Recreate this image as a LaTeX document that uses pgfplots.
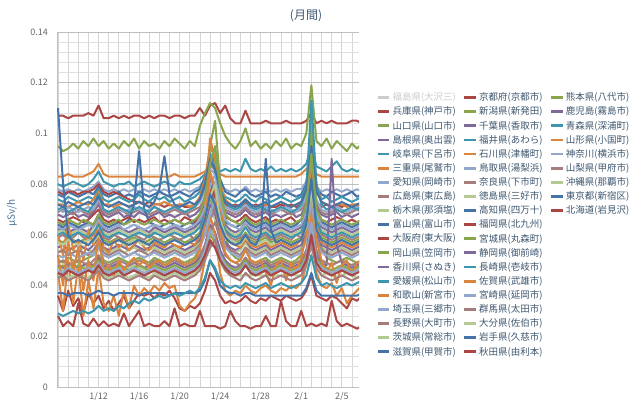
\documentclass[border=0pt]{standalone}
\usepackage{fontspec}
\setmainfont{Noto Sans CJK JP}
\usepackage{pgfplots}
\pgfplotsset{compat=1.18}
\definecolor{cb}{HTML}{4572A7}
\definecolor{cr}{HTML}{AA4643}
\definecolor{cg}{HTML}{89A54E}
\definecolor{cp}{HTML}{80699B}
\definecolor{ct}{HTML}{3D96AE}
\definecolor{co}{HTML}{DB843D}
\definecolor{cl}{HTML}{92A8CD}
\definecolor{cn}{HTML}{A47D7C}
\definecolor{cq}{HTML}{B5CA92}
\definecolor{hid}{HTML}{CCCCCC}
\definecolor{legtext}{HTML}{3E576F}
\definecolor{tickgray}{HTML}{666666}
\definecolor{axtitle}{HTML}{4D759E}
\newcommand{\ser}[2]{\addplot[#1,forget plot] table[x expr=\coordindex/2,y index=0,header=false,row sep=\\]{#2};}
\newcommand{\li}[2]{\addlegendimage{#1}\addlegendentry{#2}}
\newcommand{\lempty}{\addlegendimage{empty legend}\addlegendentry{}}
\begin{document}
\begin{tikzpicture}[x=1pt,y=1pt]
\useasboundingbox (0,0) rectangle (640,399);
\node[text=legtext,font=\fontsize{12}{12}\selectfont] at (306,383) {(月間)};
\begin{axis}[
  at={(57pt,12pt)}, anchor=south west, scale only axis,
  width=302pt, height=355pt,
  xmin=-0.1, xmax=29.7, ymin=0, ymax=0.14,
  xtick={4,8,12,16,20,24,28},
  xticklabels={1/12,1/16,1/20,1/24,1/28,2/1,2/5},
  minor xtick={0,1,...,29},
  ytick={0,0.02,0.04,0.06,0.08,0.1,0.12,0.14},
  yticklabels={0,0.02,0.04,0.06,0.08,0.1,0.12,0.14},
  minor y tick num=4,
  grid=both,
  major x grid style={draw=black!16, line width=0.7pt},
  minor x grid style={draw=black!16, line width=0.7pt},
  major y grid style={draw=black!25, line width=0.8pt},
  minor y grid style={draw=black!12, line width=0.7pt},
  axis x line*=bottom, axis y line*=left,
  axis line style={draw=black!25, line width=0.8pt, -},
  tick style={draw=none},
  yticklabel style={font=\fontsize{9}{9}\selectfont, text=tickgray, xshift=-5.5pt},
  xticklabel style={font=\fontsize{9}{9}\selectfont, text=tickgray, yshift=-1.5pt},
  ylabel={µSv/h},
  every axis y label/.style={at={(axis description cs:-0.149,0.49)}, rotate=90, anchor=center, font=\fontsize{10}{10}\selectfont, text=axtitle},
  no markers,
  every axis plot/.append style={line width=2pt, line join=round},
  legend columns=3,
  legend image code/.code={\draw[#1,line width=2.8pt] (0pt,0pt)--(11.5pt,0pt);},
  legend style={draw=none, fill=none, inner sep=0pt, at={(axis description cs:1.0563,0.835)}, anchor=north west,
    font=\fontsize{9.5}{11}\selectfont, text=legtext, row sep=0.6pt,
    /tikz/every even column/.append style={column sep=5pt},
    /tikz/every odd column/.append style={column sep=0pt}},
  legend cell align=left,
]
% 1 兵庫 red
\ser{cr}{0.107\\0.107\\0.106\\0.107\\0.107\\0.107\\0.108\\0.107\\0.111\\0.106\\0.106\\0.107\\0.106\\0.107\\0.106\\0.107\\0.107\\0.106\\0.107\\0.106\\0.107\\0.107\\0.106\\0.107\\0.107\\0.106\\0.107\\0.107\\0.110\\0.107\\0.111\\0.112\\0.108\\0.111\\0.106\\0.104\\0.104\\0.109\\0.104\\0.104\\0.104\\0.105\\0.104\\0.104\\0.104\\0.105\\0.104\\0.104\\0.104\\0.105\\0.108\\0.104\\0.105\\0.104\\0.105\\0.104\\0.104\\0.104\\0.105\\0.105\\0.104\\}
% 2 山口 green
\ser{cg}{0.095\\0.093\\0.094\\0.096\\0.094\\0.097\\0.095\\0.098\\0.095\\0.097\\0.094\\0.096\\0.094\\0.097\\0.095\\0.098\\0.094\\0.097\\0.095\\0.096\\0.094\\0.097\\0.095\\0.098\\0.096\\0.094\\0.097\\0.095\\0.103\\0.108\\0.112\\0.110\\0.104\\0.099\\0.096\\0.094\\0.097\\0.102\\0.095\\0.097\\0.094\\0.096\\0.094\\0.097\\0.095\\0.098\\0.094\\0.096\\0.095\\0.100\\0.119\\0.097\\0.095\\0.098\\0.094\\0.097\\0.095\\0.093\\0.096\\0.094\\0.096\\}
% 3 島根 purple
\ser{cp}{0.068\\0.067\\0.068\\0.069\\0.067\\0.068\\0.067\\0.069\\0.072\\0.068\\0.067\\0.068\\0.069\\0.067\\0.068\\0.067\\0.069\\0.068\\0.067\\0.068\\0.069\\0.067\\0.068\\0.067\\0.068\\0.069\\0.067\\0.068\\0.070\\0.075\\0.082\\0.078\\0.072\\0.069\\0.068\\0.067\\0.068\\0.070\\0.068\\0.067\\0.068\\0.069\\0.067\\0.068\\0.067\\0.068\\0.069\\0.067\\0.068\\0.072\\0.086\\0.071\\0.068\\0.067\\0.068\\0.069\\0.067\\0.068\\0.067\\0.068\\0.069\\}
% 4 岐阜 teal
\ser{ct}{0.080\\0.079\\0.080\\0.081\\0.080\\0.079\\0.080\\0.082\\0.085\\0.081\\0.080\\0.079\\0.080\\0.080\\0.081\\0.079\\0.080\\0.081\\0.080\\0.079\\0.080\\0.081\\0.080\\0.079\\0.081\\0.080\\0.080\\0.081\\0.082\\0.084\\0.088\\0.087\\0.085\\0.086\\0.085\\0.086\\0.085\\0.090\\0.086\\0.085\\0.086\\0.085\\0.087\\0.085\\0.086\\0.085\\0.086\\0.085\\0.086\\0.088\\0.095\\0.087\\0.086\\0.085\\0.087\\0.089\\0.086\\0.085\\0.086\\0.085\\0.086\\}
% 5 三重 orange
\ser{co}{0.083\\0.083\\0.084\\0.083\\0.083\\0.083\\0.084\\0.085\\0.088\\0.084\\0.083\\0.083\\0.083\\0.083\\0.083\\0.083\\0.083\\0.083\\0.083\\0.083\\0.083\\0.083\\0.083\\0.084\\0.083\\0.083\\0.083\\0.083\\0.084\\0.085\\0.087\\0.086\\0.084\\0.083\\0.083\\0.083\\0.083\\0.083\\0.083\\0.083\\0.083\\0.083\\0.083\\0.083\\0.083\\0.083\\0.083\\0.083\\0.084\\0.086\\0.088\\0.084\\0.083\\0.083\\0.083\\0.083\\0.083\\0.083\\0.083\\0.083\\0.083\\}
% 6 愛知 lightblue
\ser{cl}{0.078\\0.077\\0.078\\0.077\\0.078\\0.077\\0.078\\0.079\\0.081\\0.078\\0.077\\0.078\\0.077\\0.078\\0.077\\0.078\\0.077\\0.078\\0.077\\0.078\\0.077\\0.078\\0.077\\0.078\\0.077\\0.078\\0.077\\0.078\\0.079\\0.082\\0.086\\0.084\\0.080\\0.078\\0.077\\0.078\\0.077\\0.079\\0.077\\0.078\\0.077\\0.078\\0.077\\0.078\\0.077\\0.078\\0.077\\0.078\\0.078\\0.081\\0.090\\0.079\\0.077\\0.078\\0.077\\0.078\\0.077\\0.078\\0.077\\0.078\\0.077\\}
% 7 広島 brown
\ser{cn}{0.069\\0.070\\0.069\\0.068\\0.070\\0.069\\0.068\\0.070\\0.073\\0.069\\0.068\\0.069\\0.070\\0.069\\0.068\\0.069\\0.070\\0.069\\0.068\\0.069\\0.070\\0.068\\0.069\\0.070\\0.069\\0.068\\0.069\\0.070\\0.071\\0.074\\0.080\\0.077\\0.072\\0.070\\0.069\\0.068\\0.069\\0.071\\0.069\\0.068\\0.069\\0.070\\0.068\\0.069\\0.070\\0.069\\0.068\\0.069\\0.070\\0.073\\0.084\\0.072\\0.069\\0.068\\0.069\\0.070\\0.069\\0.068\\0.069\\0.070\\0.069\\}
% 8 栃木 lightgreen
\ser{cq}{0.061\\0.062\\0.060\\0.061\\0.062\\0.061\\0.060\\0.063\\0.066\\0.061\\0.060\\0.061\\0.062\\0.061\\0.060\\0.061\\0.062\\0.061\\0.060\\0.062\\0.061\\0.060\\0.061\\0.062\\0.061\\0.060\\0.061\\0.062\\0.064\\0.070\\0.078\\0.074\\0.067\\0.063\\0.061\\0.060\\0.061\\0.064\\0.061\\0.060\\0.061\\0.062\\0.060\\0.061\\0.062\\0.061\\0.060\\0.061\\0.062\\0.067\\0.085\\0.066\\0.062\\0.061\\0.060\\0.061\\0.062\\0.061\\0.060\\0.061\\0.062\\}
% 9 富山 blue
\ser{cb}{0.076\\0.075\\0.077\\0.076\\0.075\\0.076\\0.077\\0.076\\0.079\\0.076\\0.075\\0.076\\0.077\\0.075\\0.076\\0.075\\0.077\\0.076\\0.075\\0.076\\0.077\\0.076\\0.075\\0.076\\0.077\\0.076\\0.075\\0.077\\0.078\\0.083\\0.088\\0.092\\0.082\\0.077\\0.076\\0.075\\0.077\\0.078\\0.076\\0.075\\0.076\\0.077\\0.075\\0.076\\0.075\\0.077\\0.076\\0.075\\0.076\\0.080\\0.098\\0.078\\0.076\\0.075\\0.077\\0.076\\0.075\\0.076\\0.077\\0.075\\0.076\\}
% 10 大阪 red
\ser{cr}{0.077\\0.076\\0.077\\0.077\\0.076\\0.077\\0.077\\0.078\\0.080\\0.077\\0.076\\0.077\\0.076\\0.075\\0.074\\0.073\\0.073\\0.072\\0.073\\0.072\\0.072\\0.071\\0.072\\0.071\\0.072\\0.071\\0.071\\0.072\\0.074\\0.078\\0.083\\0.080\\0.075\\0.072\\0.071\\0.072\\0.071\\0.073\\0.071\\0.072\\0.071\\0.072\\0.071\\0.071\\0.072\\0.071\\0.072\\0.071\\0.072\\0.075\\0.085\\0.073\\0.071\\0.072\\0.071\\0.072\\0.071\\0.072\\0.071\\0.072\\0.071\\}
% 11 岡山 green
\ser{cg}{0.058\\0.057\\0.059\\0.058\\0.057\\0.058\\0.059\\0.058\\0.062\\0.058\\0.057\\0.058\\0.059\\0.057\\0.058\\0.059\\0.058\\0.057\\0.058\\0.059\\0.058\\0.057\\0.058\\0.059\\0.058\\0.057\\0.058\\0.059\\0.061\\0.066\\0.074\\0.070\\0.064\\0.060\\0.058\\0.057\\0.058\\0.061\\0.058\\0.057\\0.058\\0.059\\0.057\\0.058\\0.059\\0.058\\0.057\\0.058\\0.059\\0.064\\0.080\\0.063\\0.059\\0.058\\0.057\\0.058\\0.059\\0.058\\0.057\\0.058\\0.059\\}
% 12 香川 purple
\ser{cp}{0.062\\0.063\\0.061\\0.062\\0.063\\0.062\\0.061\\0.064\\0.067\\0.062\\0.061\\0.062\\0.063\\0.062\\0.061\\0.062\\0.063\\0.062\\0.061\\0.063\\0.062\\0.061\\0.062\\0.063\\0.062\\0.061\\0.062\\0.063\\0.065\\0.070\\0.077\\0.073\\0.067\\0.064\\0.062\\0.061\\0.062\\0.065\\0.062\\0.061\\0.062\\0.063\\0.061\\0.062\\0.063\\0.062\\0.061\\0.062\\0.063\\0.068\\0.083\\0.067\\0.063\\0.062\\0.061\\0.062\\0.063\\0.062\\0.061\\0.062\\0.063\\}
% 13 愛媛 teal
\ser{ct}{0.074\\0.073\\0.075\\0.074\\0.073\\0.074\\0.075\\0.074\\0.078\\0.074\\0.073\\0.074\\0.075\\0.074\\0.073\\0.074\\0.076\\0.074\\0.073\\0.075\\0.074\\0.075\\0.073\\0.074\\0.075\\0.073\\0.074\\0.075\\0.077\\0.081\\0.090\\0.085\\0.078\\0.075\\0.074\\0.073\\0.074\\0.076\\0.074\\0.073\\0.075\\0.074\\0.073\\0.074\\0.075\\0.074\\0.073\\0.074\\0.075\\0.079\\0.100\\0.078\\0.074\\0.075\\0.073\\0.074\\0.075\\0.074\\0.073\\0.074\\0.075\\}
% 14 和歌山 orange
\ser{co}{0.072\\0.072\\0.071\\0.072\\0.073\\0.072\\0.072\\0.074\\0.077\\0.072\\0.072\\0.071\\0.072\\0.072\\0.071\\0.072\\0.073\\0.072\\0.071\\0.072\\0.072\\0.073\\0.072\\0.071\\0.072\\0.072\\0.071\\0.072\\0.075\\0.082\\0.095\\0.090\\0.080\\0.074\\0.072\\0.071\\0.072\\0.074\\0.072\\0.071\\0.072\\0.072\\0.071\\0.072\\0.073\\0.072\\0.071\\0.072\\0.073\\0.078\\0.105\\0.080\\0.073\\0.072\\0.071\\0.072\\0.072\\0.071\\0.072\\0.072\\0.071\\}
% 15 埼玉 lightblue
\ser{cl}{0.070\\0.069\\0.071\\0.070\\0.069\\0.070\\0.071\\0.070\\0.074\\0.070\\0.069\\0.070\\0.071\\0.069\\0.070\\0.071\\0.070\\0.069\\0.070\\0.071\\0.070\\0.069\\0.070\\0.071\\0.070\\0.069\\0.070\\0.071\\0.073\\0.077\\0.083\\0.080\\0.074\\0.071\\0.070\\0.069\\0.070\\0.072\\0.070\\0.069\\0.070\\0.071\\0.070\\0.069\\0.070\\0.071\\0.070\\0.069\\0.071\\0.075\\0.088\\0.074\\0.070\\0.069\\0.070\\0.071\\0.070\\0.069\\0.070\\0.071\\0.070\\}
% 16 長野 brown
\ser{cn}{0.059\\0.060\\0.058\\0.059\\0.061\\0.059\\0.058\\0.060\\0.062\\0.059\\0.058\\0.060\\0.059\\0.058\\0.059\\0.060\\0.059\\0.058\\0.060\\0.059\\0.058\\0.059\\0.060\\0.059\\0.058\\0.059\\0.060\\0.058\\0.060\\0.063\\0.068\\0.072\\0.066\\0.061\\0.059\\0.058\\0.059\\0.060\\0.059\\0.058\\0.059\\0.060\\0.058\\0.059\\0.060\\0.059\\0.058\\0.060\\0.059\\0.061\\0.072\\0.063\\0.060\\0.059\\0.058\\0.059\\0.060\\0.059\\0.058\\0.059\\0.060\\}
% 17 茨城 lightgreen
\ser{cq}{0.054\\0.053\\0.055\\0.054\\0.053\\0.055\\0.054\\0.053\\0.058\\0.054\\0.053\\0.054\\0.055\\0.053\\0.054\\0.055\\0.054\\0.053\\0.054\\0.055\\0.054\\0.053\\0.054\\0.055\\0.054\\0.053\\0.054\\0.055\\0.057\\0.062\\0.070\\0.066\\0.060\\0.056\\0.054\\0.053\\0.054\\0.057\\0.054\\0.053\\0.054\\0.055\\0.053\\0.054\\0.055\\0.054\\0.053\\0.054\\0.055\\0.060\\0.075\\0.058\\0.055\\0.054\\0.053\\0.054\\0.055\\0.054\\0.053\\0.054\\0.055\\}
% 18 滋賀 blue
\ser{cb}{0.064\\0.063\\0.065\\0.064\\0.063\\0.064\\0.065\\0.064\\0.068\\0.064\\0.063\\0.064\\0.065\\0.064\\0.066\\0.072\\0.093\\0.070\\0.065\\0.064\\0.063\\0.064\\0.065\\0.064\\0.063\\0.064\\0.065\\0.064\\0.066\\0.072\\0.080\\0.076\\0.069\\0.065\\0.064\\0.063\\0.064\\0.066\\0.064\\0.063\\0.064\\0.065\\0.063\\0.064\\0.065\\0.064\\0.063\\0.064\\0.066\\0.071\\0.088\\0.070\\0.065\\0.064\\0.063\\0.064\\0.065\\0.064\\0.063\\0.064\\0.065\\}
% 19 京都 red
\ser{cr}{0.066\\0.065\\0.066\\0.067\\0.066\\0.065\\0.066\\0.068\\0.070\\0.066\\0.065\\0.066\\0.065\\0.066\\0.067\\0.065\\0.066\\0.065\\0.066\\0.067\\0.065\\0.066\\0.065\\0.066\\0.065\\0.067\\0.066\\0.065\\0.068\\0.072\\0.078\\0.075\\0.070\\0.067\\0.066\\0.065\\0.066\\0.068\\0.066\\0.065\\0.066\\0.067\\0.065\\0.066\\0.065\\0.066\\0.067\\0.065\\0.066\\0.070\\0.082\\0.069\\0.066\\0.065\\0.066\\0.067\\0.066\\0.065\\0.066\\0.065\\0.066\\}
% 20 新潟 green
\ser{cg}{0.050\\0.049\\0.051\\0.050\\0.049\\0.050\\0.051\\0.052\\0.056\\0.050\\0.049\\0.050\\0.051\\0.050\\0.049\\0.050\\0.051\\0.050\\0.049\\0.051\\0.050\\0.049\\0.050\\0.051\\0.050\\0.049\\0.050\\0.051\\0.055\\0.068\\0.095\\0.105\\0.080\\0.060\\0.053\\0.051\\0.050\\0.055\\0.050\\0.049\\0.050\\0.051\\0.049\\0.050\\0.051\\0.050\\0.049\\0.050\\0.052\\0.062\\0.105\\0.070\\0.055\\0.051\\0.050\\0.049\\0.050\\0.051\\0.050\\0.049\\0.050\\}
% 21 千葉 purple
\ser{cp}{0.055\\0.056\\0.054\\0.055\\0.056\\0.055\\0.054\\0.056\\0.059\\0.055\\0.054\\0.055\\0.056\\0.055\\0.054\\0.056\\0.055\\0.054\\0.055\\0.056\\0.055\\0.054\\0.055\\0.056\\0.055\\0.054\\0.055\\0.056\\0.058\\0.064\\0.072\\0.068\\0.061\\0.057\\0.055\\0.054\\0.055\\0.058\\0.055\\0.054\\0.055\\0.056\\0.054\\0.055\\0.056\\0.055\\0.054\\0.055\\0.056\\0.061\\0.078\\0.060\\0.056\\0.055\\0.054\\0.055\\0.056\\0.055\\0.054\\0.055\\0.056\\}
% 22 福井 teal
\ser{ct}{0.070\\0.071\\0.069\\0.070\\0.071\\0.070\\0.069\\0.072\\0.076\\0.070\\0.069\\0.070\\0.071\\0.070\\0.069\\0.070\\0.071\\0.070\\0.069\\0.071\\0.070\\0.069\\0.070\\0.071\\0.070\\0.069\\0.070\\0.071\\0.074\\0.080\\0.092\\0.088\\0.078\\0.073\\0.071\\0.070\\0.071\\0.074\\0.071\\0.070\\0.071\\0.070\\0.069\\0.070\\0.071\\0.070\\0.069\\0.070\\0.072\\0.078\\0.113\\0.080\\0.072\\0.070\\0.071\\0.070\\0.069\\0.070\\0.071\\0.070\\0.071\\}
% 23 石川 orange
\ser{co}{0.060\\0.052\\0.065\\0.054\\0.058\\0.050\\0.062\\0.056\\0.066\\0.055\\0.053\\0.058\\0.055\\0.057\\0.054\\0.056\\0.058\\0.055\\0.054\\0.057\\0.056\\0.055\\0.057\\0.056\\0.055\\0.056\\0.057\\0.056\\0.060\\0.070\\0.098\\0.090\\0.072\\0.060\\0.057\\0.056\\0.055\\0.058\\0.056\\0.055\\0.056\\0.057\\0.055\\0.056\\0.057\\0.056\\0.055\\0.056\\0.058\\0.066\\0.090\\0.064\\0.057\\0.056\\0.055\\0.056\\0.057\\0.056\\0.055\\0.056\\0.057\\}
% 24 鳥取 lightblue
\ser{cl}{0.063\\0.062\\0.064\\0.063\\0.062\\0.063\\0.064\\0.063\\0.066\\0.063\\0.062\\0.063\\0.064\\0.062\\0.063\\0.064\\0.063\\0.062\\0.063\\0.064\\0.063\\0.062\\0.063\\0.064\\0.063\\0.062\\0.063\\0.064\\0.066\\0.071\\0.079\\0.084\\0.072\\0.066\\0.064\\0.063\\0.062\\0.065\\0.063\\0.062\\0.063\\0.064\\0.062\\0.063\\0.064\\0.063\\0.062\\0.063\\0.064\\0.069\\0.082\\0.068\\0.064\\0.063\\0.062\\0.063\\0.064\\0.063\\0.062\\0.063\\0.064\\}
% 25 奈良 brown
\ser{cn}{0.053\\0.054\\0.052\\0.053\\0.054\\0.053\\0.052\\0.054\\0.057\\0.053\\0.052\\0.053\\0.054\\0.053\\0.052\\0.053\\0.054\\0.053\\0.052\\0.054\\0.053\\0.052\\0.053\\0.054\\0.053\\0.052\\0.053\\0.054\\0.056\\0.060\\0.066\\0.070\\0.062\\0.056\\0.054\\0.053\\0.052\\0.055\\0.053\\0.052\\0.053\\0.054\\0.052\\0.053\\0.054\\0.053\\0.052\\0.053\\0.054\\0.058\\0.070\\0.058\\0.054\\0.053\\0.052\\0.053\\0.054\\0.053\\0.052\\0.053\\0.054\\}
% 26 徳島 lightgreen
\ser{cq}{0.047\\0.046\\0.048\\0.047\\0.046\\0.047\\0.048\\0.047\\0.050\\0.047\\0.046\\0.047\\0.048\\0.046\\0.047\\0.048\\0.047\\0.046\\0.047\\0.048\\0.047\\0.046\\0.047\\0.048\\0.047\\0.046\\0.047\\0.048\\0.050\\0.055\\0.063\\0.060\\0.053\\0.049\\0.047\\0.046\\0.047\\0.050\\0.047\\0.046\\0.047\\0.048\\0.046\\0.047\\0.048\\0.047\\0.046\\0.047\\0.048\\0.052\\0.068\\0.052\\0.048\\0.047\\0.046\\0.047\\0.048\\0.047\\0.046\\0.047\\0.048\\}
% 27 高知 blue
\ser{cb}{0.072\\0.071\\0.073\\0.072\\0.071\\0.072\\0.073\\0.072\\0.075\\0.072\\0.071\\0.072\\0.073\\0.072\\0.071\\0.072\\0.073\\0.072\\0.071\\0.073\\0.078\\0.091\\0.076\\0.072\\0.071\\0.072\\0.073\\0.072\\0.074\\0.080\\0.090\\0.086\\0.077\\0.073\\0.072\\0.071\\0.072\\0.074\\0.072\\0.071\\0.072\\0.073\\0.071\\0.072\\0.073\\0.072\\0.071\\0.072\\0.073\\0.078\\0.095\\0.077\\0.073\\0.072\\0.071\\0.072\\0.073\\0.072\\0.071\\0.072\\0.073\\}
% 28 福岡 red
\ser{cr}{0.036\\0.030\\0.038\\0.032\\0.035\\0.029\\0.037\\0.033\\0.036\\0.031\\0.034\\0.030\\0.033\\0.036\\0.031\\0.034\\0.037\\0.036\\0.037\\0.035\\0.037\\0.036\\0.038\\0.035\\0.031\\0.030\\0.032\\0.031\\0.033\\0.038\\0.045\\0.042\\0.036\\0.033\\0.034\\0.033\\0.034\\0.036\\0.034\\0.033\\0.035\\0.034\\0.036\\0.035\\0.034\\0.036\\0.035\\0.034\\0.035\\0.038\\0.044\\0.036\\0.035\\0.034\\0.036\\0.035\\0.033\\0.031\\0.035\\0.034\\0.036\\}
% 29 宮城 green
\ser{cg}{0.065\\0.064\\0.066\\0.065\\0.064\\0.066\\0.065\\0.064\\0.068\\0.065\\0.064\\0.065\\0.066\\0.064\\0.065\\0.066\\0.065\\0.064\\0.065\\0.066\\0.065\\0.064\\0.065\\0.066\\0.065\\0.064\\0.065\\0.066\\0.068\\0.075\\0.088\\0.095\\0.078\\0.068\\0.066\\0.065\\0.064\\0.067\\0.065\\0.064\\0.065\\0.066\\0.064\\0.065\\0.066\\0.065\\0.064\\0.065\\0.066\\0.072\\0.092\\0.070\\0.066\\0.065\\0.064\\0.065\\0.066\\0.065\\0.064\\0.065\\0.066\\}
% 30 静岡 purple
\ser{cp}{0.048\\0.047\\0.049\\0.048\\0.047\\0.048\\0.049\\0.048\\0.051\\0.048\\0.047\\0.048\\0.049\\0.047\\0.048\\0.049\\0.048\\0.047\\0.048\\0.049\\0.048\\0.047\\0.048\\0.049\\0.048\\0.047\\0.048\\0.049\\0.051\\0.056\\0.064\\0.061\\0.054\\0.050\\0.048\\0.047\\0.048\\0.051\\0.048\\0.047\\0.048\\0.049\\0.047\\0.048\\0.049\\0.048\\0.047\\0.048\\0.049\\0.053\\0.066\\0.052\\0.049\\0.048\\0.090\\0.056\\0.049\\0.048\\0.047\\0.048\\0.049\\}
% 31 長崎 teal
\ser{ct}{0.060\\0.061\\0.059\\0.060\\0.061\\0.060\\0.059\\0.061\\0.064\\0.060\\0.059\\0.060\\0.061\\0.060\\0.059\\0.060\\0.061\\0.060\\0.059\\0.061\\0.060\\0.059\\0.060\\0.061\\0.060\\0.059\\0.060\\0.061\\0.063\\0.068\\0.076\\0.072\\0.066\\0.062\\0.060\\0.059\\0.060\\0.063\\0.060\\0.059\\0.060\\0.061\\0.059\\0.060\\0.061\\0.060\\0.059\\0.060\\0.061\\0.066\\0.082\\0.065\\0.061\\0.060\\0.059\\0.060\\0.061\\0.060\\0.059\\0.060\\0.061\\}
% 32 佐賀 orange
\ser{co}{0.045\\0.030\\0.050\\0.033\\0.048\\0.028\\0.042\\0.031\\0.047\\0.033\\0.030\\0.036\\0.028\\0.038\\0.031\\0.040\\0.036\\0.039\\0.037\\0.040\\0.038\\0.041\\0.039\\0.040\\0.032\\0.030\\0.033\\0.035\\0.040\\0.050\\0.068\\0.060\\0.045\\0.038\\0.036\\0.038\\0.037\\0.040\\0.038\\0.037\\0.039\\0.040\\0.038\\0.037\\0.039\\0.038\\0.040\\0.039\\0.041\\0.048\\0.070\\0.045\\0.040\\0.039\\0.041\\0.036\\0.039\\0.033\\0.036\\0.038\\0.040\\}
% 33 宮崎 lightblue
\ser{cl}{0.052\\0.051\\0.053\\0.052\\0.051\\0.052\\0.053\\0.052\\0.055\\0.052\\0.051\\0.052\\0.053\\0.051\\0.052\\0.053\\0.052\\0.051\\0.052\\0.053\\0.052\\0.051\\0.052\\0.053\\0.052\\0.051\\0.052\\0.053\\0.055\\0.060\\0.068\\0.074\\0.062\\0.055\\0.053\\0.052\\0.051\\0.054\\0.052\\0.051\\0.052\\0.053\\0.051\\0.052\\0.053\\0.052\\0.051\\0.052\\0.053\\0.058\\0.075\\0.057\\0.053\\0.052\\0.051\\0.052\\0.053\\0.052\\0.051\\0.052\\0.053\\}
% 34 群馬 brown
\ser{cn}{0.049\\0.050\\0.048\\0.049\\0.050\\0.049\\0.048\\0.050\\0.052\\0.049\\0.048\\0.049\\0.050\\0.049\\0.048\\0.049\\0.050\\0.049\\0.048\\0.050\\0.049\\0.048\\0.049\\0.050\\0.049\\0.048\\0.049\\0.050\\0.052\\0.056\\0.061\\0.065\\0.058\\0.052\\0.050\\0.049\\0.048\\0.051\\0.049\\0.048\\0.049\\0.050\\0.048\\0.049\\0.050\\0.049\\0.048\\0.049\\0.050\\0.054\\0.064\\0.054\\0.050\\0.049\\0.048\\0.049\\0.050\\0.049\\0.048\\0.049\\0.050\\}
% 35 大分 lightgreen
\ser{cq}{0.044\\0.045\\0.043\\0.044\\0.045\\0.044\\0.043\\0.045\\0.047\\0.044\\0.043\\0.044\\0.045\\0.044\\0.043\\0.044\\0.045\\0.044\\0.043\\0.045\\0.044\\0.043\\0.044\\0.045\\0.044\\0.043\\0.044\\0.045\\0.047\\0.052\\0.058\\0.055\\0.049\\0.046\\0.044\\0.044\\0.044\\0.044\\0.044\\0.044\\0.044\\0.044\\0.044\\0.044\\0.044\\0.044\\0.044\\0.044\\0.044\\0.048\\0.060\\0.047\\0.044\\0.045\\0.044\\0.043\\0.044\\0.045\\0.044\\0.043\\0.044\\}
% 36 岩手 blue
\ser{cb}{0.037\\0.037\\0.036\\0.037\\0.037\\0.037\\0.036\\0.037\\0.038\\0.037\\0.037\\0.036\\0.037\\0.037\\0.037\\0.037\\0.036\\0.037\\0.037\\0.037\\0.037\\0.037\\0.036\\0.037\\0.037\\0.037\\0.037\\0.037\\0.038\\0.042\\0.050\\0.046\\0.040\\0.038\\0.037\\0.037\\0.036\\0.037\\0.037\\0.036\\0.036\\0.036\\0.036\\0.036\\0.036\\0.036\\0.036\\0.036\\0.036\\0.039\\0.045\\0.038\\0.036\\0.036\\0.036\\0.036\\0.036\\0.036\\0.036\\0.036\\0.037\\}
% 37 秋田 red
\ser{cr}{0.028\\0.024\\0.026\\0.024\\0.033\\0.025\\0.024\\0.027\\0.024\\0.026\\0.024\\0.025\\0.024\\0.029\\0.024\\0.027\\0.030\\0.024\\0.025\\0.024\\0.024\\0.026\\0.024\\0.031\\0.024\\0.025\\0.024\\0.024\\0.030\\0.024\\0.024\\0.024\\0.023\\0.024\\0.030\\0.026\\0.024\\0.024\\0.023\\0.024\\0.024\\0.028\\0.024\\0.024\\0.034\\0.026\\0.024\\0.024\\0.030\\0.024\\0.025\\0.024\\0.025\\0.024\\0.034\\0.026\\0.024\\0.025\\0.024\\0.023\\0.024\\}
% 38 熊本 green
\ser{cg}{0.047\\0.048\\0.046\\0.047\\0.048\\0.047\\0.046\\0.048\\0.050\\0.047\\0.046\\0.047\\0.048\\0.047\\0.046\\0.047\\0.048\\0.047\\0.046\\0.048\\0.047\\0.046\\0.047\\0.048\\0.047\\0.046\\0.047\\0.048\\0.050\\0.054\\0.060\\0.057\\0.052\\0.049\\0.047\\0.046\\0.047\\0.050\\0.047\\0.046\\0.047\\0.048\\0.046\\0.047\\0.048\\0.047\\0.046\\0.047\\0.048\\0.052\\0.062\\0.051\\0.048\\0.047\\0.046\\0.047\\0.048\\0.047\\0.046\\0.047\\0.048\\}
% 39 鹿児島 purple
\ser{cp}{0.045\\0.044\\0.046\\0.045\\0.044\\0.045\\0.046\\0.045\\0.048\\0.045\\0.044\\0.045\\0.046\\0.044\\0.045\\0.046\\0.045\\0.044\\0.045\\0.046\\0.045\\0.044\\0.045\\0.046\\0.045\\0.044\\0.045\\0.046\\0.048\\0.052\\0.057\\0.055\\0.050\\0.047\\0.045\\0.044\\0.045\\0.048\\0.045\\0.044\\0.045\\0.046\\0.044\\0.045\\0.046\\0.045\\0.044\\0.045\\0.046\\0.050\\0.058\\0.049\\0.046\\0.045\\0.044\\0.045\\0.046\\0.045\\0.044\\0.045\\0.046\\}
% 40 青森 teal
\ser{ct}{0.029\\0.028\\0.029\\0.030\\0.029\\0.030\\0.029\\0.030\\0.032\\0.030\\0.031\\0.030\\0.032\\0.031\\0.033\\0.034\\0.033\\0.035\\0.034\\0.035\\0.036\\0.035\\0.036\\0.037\\0.036\\0.037\\0.038\\0.037\\0.039\\0.043\\0.050\\0.047\\0.042\\0.040\\0.039\\0.040\\0.039\\0.041\\0.040\\0.039\\0.040\\0.041\\0.039\\0.040\\0.041\\0.040\\0.039\\0.040\\0.041\\0.044\\0.052\\0.043\\0.040\\0.041\\0.040\\0.039\\0.040\\0.041\\0.040\\0.041\\0.042\\}
% 41 山形 orange
\ser{co}{0.052\\0.040\\0.058\\0.045\\0.055\\0.038\\0.050\\0.042\\0.060\\0.046\\0.048\\0.044\\0.050\\0.046\\0.049\\0.051\\0.048\\0.050\\0.047\\0.049\\0.050\\0.048\\0.049\\0.051\\0.050\\0.048\\0.049\\0.050\\0.054\\0.065\\0.085\\0.078\\0.062\\0.053\\0.050\\0.049\\0.050\\0.054\\0.050\\0.049\\0.050\\0.045\\0.040\\0.048\\0.050\\0.042\\0.049\\0.046\\0.051\\0.060\\0.080\\0.058\\0.050\\0.045\\0.049\\0.041\\0.048\\0.050\\0.044\\0.049\\0.050\\}
% 42 神奈川 lightblue
\ser{cl}{0.046\\0.045\\0.047\\0.046\\0.045\\0.046\\0.047\\0.046\\0.049\\0.046\\0.045\\0.046\\0.047\\0.045\\0.046\\0.047\\0.046\\0.045\\0.046\\0.047\\0.046\\0.045\\0.046\\0.047\\0.046\\0.045\\0.046\\0.047\\0.049\\0.054\\0.062\\0.058\\0.052\\0.048\\0.046\\0.045\\0.046\\0.049\\0.046\\0.045\\0.046\\0.047\\0.045\\0.046\\0.047\\0.046\\0.045\\0.046\\0.047\\0.051\\0.065\\0.050\\0.047\\0.046\\0.045\\0.046\\0.047\\0.046\\0.045\\0.046\\0.047\\}
% 43 山梨 brown
\ser{cn}{0.043\\0.044\\0.042\\0.043\\0.044\\0.043\\0.042\\0.044\\0.046\\0.043\\0.042\\0.043\\0.044\\0.043\\0.042\\0.043\\0.044\\0.043\\0.042\\0.044\\0.043\\0.042\\0.043\\0.044\\0.043\\0.042\\0.043\\0.044\\0.046\\0.050\\0.055\\0.058\\0.050\\0.046\\0.044\\0.043\\0.042\\0.045\\0.043\\0.042\\0.043\\0.044\\0.042\\0.043\\0.044\\0.043\\0.042\\0.043\\0.044\\0.048\\0.056\\0.047\\0.044\\0.043\\0.042\\0.043\\0.044\\0.043\\0.042\\0.043\\0.044\\}
% 44 沖縄 lightgreen
\ser{cq}{0.057\\0.056\\0.058\\0.057\\0.056\\0.057\\0.058\\0.057\\0.060\\0.057\\0.056\\0.057\\0.058\\0.056\\0.057\\0.058\\0.057\\0.056\\0.057\\0.058\\0.057\\0.056\\0.057\\0.058\\0.057\\0.056\\0.057\\0.058\\0.060\\0.066\\0.075\\0.080\\0.066\\0.060\\0.058\\0.057\\0.056\\0.059\\0.057\\0.056\\0.057\\0.058\\0.056\\0.057\\0.058\\0.057\\0.056\\0.057\\0.058\\0.063\\0.078\\0.062\\0.058\\0.057\\0.056\\0.057\\0.058\\0.057\\0.056\\0.057\\0.058\\}
% 45 東京 blue
\ser{cb}{0.110\\0.080\\0.060\\0.057\\0.058\\0.057\\0.056\\0.058\\0.061\\0.057\\0.056\\0.057\\0.058\\0.057\\0.056\\0.057\\0.058\\0.057\\0.056\\0.058\\0.057\\0.056\\0.057\\0.058\\0.057\\0.056\\0.057\\0.058\\0.060\\0.066\\0.076\\0.072\\0.064\\0.059\\0.057\\0.056\\0.057\\0.060\\0.057\\0.056\\0.060\\0.090\\0.062\\0.057\\0.058\\0.057\\0.056\\0.057\\0.058\\0.064\\0.082\\0.062\\0.058\\0.057\\0.056\\0.057\\0.058\\0.057\\0.056\\0.057\\0.058\\}
% 46 北海道 red
\ser{cr}{0.045\\0.044\\0.046\\0.045\\0.044\\0.045\\0.046\\0.045\\0.048\\0.045\\0.044\\0.045\\0.046\\0.044\\0.045\\0.046\\0.045\\0.044\\0.045\\0.046\\0.045\\0.044\\0.045\\0.046\\0.045\\0.044\\0.045\\0.046\\0.048\\0.052\\0.058\\0.055\\0.050\\0.047\\0.045\\0.044\\0.045\\0.048\\0.045\\0.044\\0.045\\0.046\\0.044\\0.045\\0.046\\0.045\\0.044\\0.045\\0.046\\0.050\\0.060\\0.049\\0.046\\0.045\\0.044\\0.045\\0.046\\0.045\\0.044\\0.045\\0.046\\}
% legend, row by row
\li{hid}{\textcolor{hid}{福島県(大沢三)}}\li{cr}{京都府(京都市)}\li{cg}{熊本県(八代市)}
\li{cr}{兵庫県(神戸市)}\li{cg}{新潟県(新発田)}\li{cp}{鹿児島(霧島市)}
\li{cg}{山口県(山口市)}\li{cp}{千葉県(香取市)}\li{ct}{青森県(深浦町)}
\li{cp}{島根県(奥出雲)}\li{ct}{福井県(あわら)}\li{co}{山形県(小国町)}
\li{ct}{岐阜県(下呂市)}\li{co}{石川県(津幡町)}\li{cl}{神奈川(横浜市)}
\li{co}{三重県(尾鷲市)}\li{cl}{鳥取県(湯梨浜)}\li{cn}{山梨県(甲府市)}
\li{cl}{愛知県(岡崎市)}\li{cn}{奈良県(下市町)}\li{cq}{沖縄県(那覇市)}
\li{cn}{広島県(東広島)}\li{cq}{徳島県(三好市)}\li{cb}{東京都(新宿区)}
\li{cq}{栃木県(那須塩)}\li{cb}{高知県(四万十)}\li{cr}{北海道(岩見沢)}
\li{cb}{富山県(富山市)}\li{cr}{福岡県(北九州)}\lempty
\li{cr}{大阪府(東大阪)}\li{cg}{宮城県(丸森町)}\lempty
\li{cg}{岡山県(笠岡市)}\li{cp}{静岡県(御前崎)}\lempty
\li{cp}{香川県(さぬき)}\li{ct}{長崎県(壱岐市)}\lempty
\li{ct}{愛媛県(松山市)}\li{co}{佐賀県(武雄市)}\lempty
\li{co}{和歌山(新宮市)}\li{cl}{宮崎県(延岡市)}\lempty
\li{cl}{埼玉県(三郷市)}\li{cn}{群馬県(太田市)}\lempty
\li{cn}{長野県(大町市)}\li{cq}{大分県(佐伯市)}\lempty
\li{cq}{茨城県(常総市)}\li{cb}{岩手県(久慈市)}\lempty
\li{cb}{滋賀県(甲賀市)}\li{cr}{秋田県(由利本)}
\end{axis}
\end{tikzpicture}
\end{document}
